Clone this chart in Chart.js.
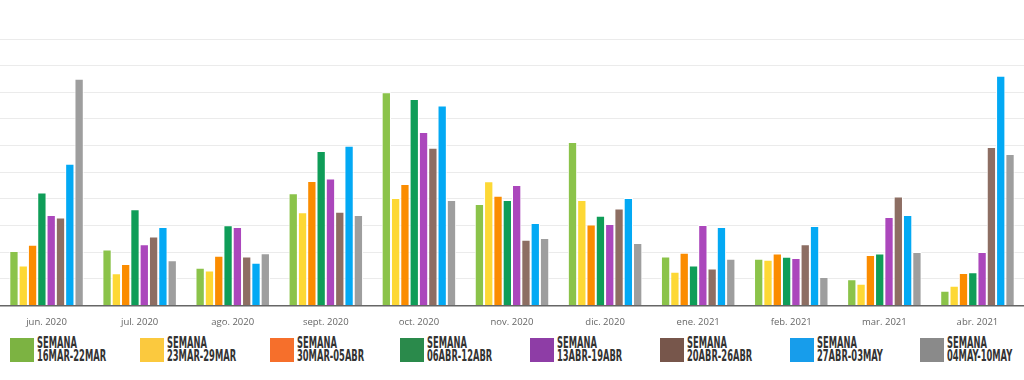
<!DOCTYPE html>
<html>
<head>
<meta charset="utf-8">
<script src="https://cdn.jsdelivr.net/npm/chart.js@4/dist/chart.umd.min.js"></script>
<style>
  body { margin: 0; background: #fff; width: 1024px; height: 380px; overflow: hidden; }
  #wrap { position: absolute; left: 0; top: 0; width: 1024px; height: 332px; }
  #legend { position: absolute; left: 0; top: 338px; width: 1024px; height: 26px; }
  .item { position: absolute; top: 0; height: 24px; }
  .box { position: absolute; left: 0; top: 0; width: 24px; height: 24px; }
  .txt {
    position: absolute; left: 27px; top: -2px; white-space: nowrap;
    font-family: "Liberation Sans Narrow", "DejaVu Sans Condensed", sans-serif;
    font-weight: bold; font-size: 16px; line-height: 13px; color: #333333;
    transform: scaleX(0.58); transform-origin: left top;
  }
</style>
</head>
<body>
<div id="wrap"><canvas id="chart"></canvas></div>
<div id="legend"></div>
<script>
const months = ['jun. 2020', 'jul. 2020', 'ago. 2020', 'sept. 2020', 'oct. 2020', 'nov. 2020',
  'dic. 2020', 'ene. 2021', 'feb. 2021', 'mar. 2021', 'abr. 2021'];

const weeks = ['16MAR-22MAR', '23MAR-29MAR', '30MAR-05ABR', '06ABR-12ABR',
  '13ABR-19ABR', '20ABR-26ABR', '27ABR-03MAY', '04MAY-10MAY'];

const barColors = ['#8bc34a', '#fdd835', '#fb8c00', '#0f9d58', '#ab47bc', '#8d6e63', '#03a9f4', '#9e9e9e'];
const legendColors = ['#7cb342', '#fbc93e', '#f66f2b', '#2a8a4b', '#8e3da6', '#77564b', '#179deb', '#8a8a8a'];

// one array per week, one value per month
const w16mar = [20.5, 21.0, 14.2, 42.1, 80.0, 38.1, 61.4, 18.4, 17.6, 9.9, 5.6];
const w23mar = [15.0, 12.1, 13.2, 35.0, 40.4, 46.6, 39.6, 12.7, 17.2, 8.2, 7.4];
const w30mar = [22.8, 15.6, 18.7, 46.7, 45.6, 41.2, 30.4, 19.8, 19.5, 19.0, 12.2];
const w06abr = [42.4, 36.1, 30.1, 58.0, 77.5, 39.6, 33.7, 15.0, 18.3, 19.5, 12.5];
const w13abr = [34.0, 23.0, 29.5, 47.7, 65.1, 45.2, 30.6, 30.2, 17.9, 33.2, 20.1];
const w20abr = [33.0, 25.9, 18.4, 35.2, 59.2, 24.7, 36.4, 13.9, 23.0, 40.9, 59.5];
const w27abr = [53.2, 29.5, 16.1, 60.0, 75.1, 31.0, 40.4, 29.5, 29.9, 34.0, 86.2];
const w04may = [85.1, 17.0, 19.6, 34.0, 39.6, 25.4, 23.5, 17.6, 10.7, 20.1, 56.9];

const series = [w16mar, w23mar, w30mar, w06abr, w13abr, w20abr, w27abr, w04may];

const datasets = series.map((vals, i) => ({
  label: 'SEMANA ' + weeks[i],
  data: vals,
  backgroundColor: barColors[i],
  borderColor: '#ffffff',
  borderWidth: 1,
  borderSkipped: 'bottom',
  categoryPercentage: 0.8,
  barPercentage: 1.0
}));

new Chart(document.getElementById('chart').getContext('2d'), {
  type: 'bar',
  data: { labels: months, datasets: datasets },
  options: {
    responsive: true,
    maintainAspectRatio: false,
    animation: false,
    layout: { padding: { top: 39, left: 0, right: 0, bottom: 1 } },
    plugins: { legend: { display: false }, tooltip: { enabled: false } },
    scales: {
      x: {
        grid: { display: false },
        border: { color: '#666666', width: 1.5 },
        ticks: { color: '#666666', font: { family: 'Open Sans', size: 9.5 }, padding: 3 }
      },
      y: {
        min: 0,
        max: 100,
        ticks: { display: false, stepSize: 10 },
        border: { display: false },
        grid: { color: '#ebebeb', drawTicks: false }
      }
    }
  }
});

// legend
const legend = document.getElementById('legend');
weeks.forEach((w, i) => {
  const item = document.createElement('div');
  item.className = 'item';
  item.style.left = (10 + i * 130) + 'px';
  item.innerHTML = '<div class="box" style="background:' + legendColors[i] + '"></div>' +
    '<div class="txt">SEMANA<br>' + w + '</div>';
  legend.appendChild(item);
});
</script>
</body>
</html>
